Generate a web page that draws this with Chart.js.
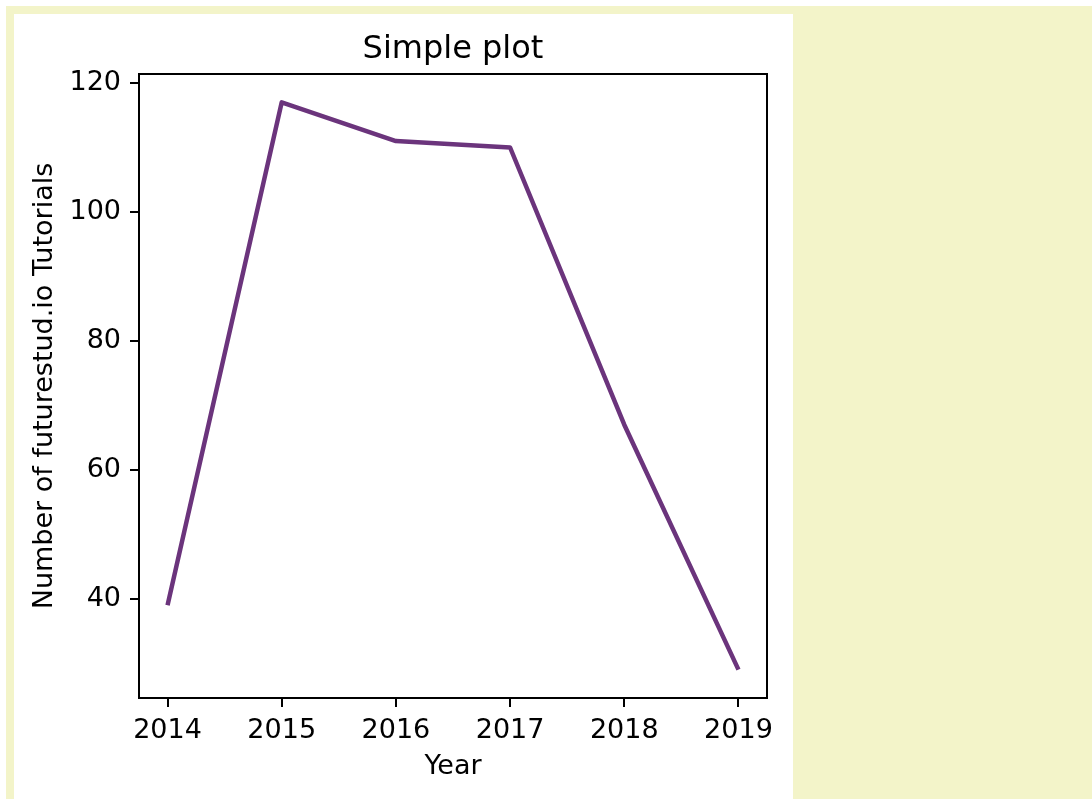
<!DOCTYPE html>
<html>
<head>
<meta charset="utf-8">
<title>Simple plot</title>
<script src="https://cdn.jsdelivr.net/npm/chart.js@4.4.1/dist/chart.umd.min.js"></script>
<style>
    html, body { margin: 0; padding: 0; background: #ffffff; overflow: hidden; }
    #frame { position: absolute; left: 6px; top: 6px; right: 0; bottom: 0; background: #f3f4c9; }
    #plot { position: absolute; left: 8px; top: 8px; width: 779px; height: 785px; background: #ffffff; }
</style>
</head>
<body>
<div id="frame">
    <div id="plot"><canvas id="chart" width="779" height="785"></canvas></div>
</div>
<script>
const years = [2014, 2015, 2016, 2017, 2018, 2019];
const tutorials = [39, 117, 111, 110, 67, 29];
const yTickValues = [40, 60, 80, 100, 120];

document.addEventListener("DOMContentLoaded", function () {

    const fontFamily = "'DejaVu Sans', sans-serif";

    // matplotlib style 5% margins round the data
    const xPad = (Math.max(...years) - Math.min(...years)) * 0.05;
    const yPad = (Math.max(...tutorials) - Math.min(...tutorials)) * 0.05;

    // draws all four spines on top of the line
    const framePlugin = {
        id: 'frame',
        afterDraw(chart) {
            const { ctx, chartArea } = chart;
            ctx.save();
            ctx.strokeStyle = '#000000';
            ctx.lineWidth = 2;
            ctx.strokeRect(chartArea.left, chartArea.top,
                chartArea.right - chartArea.left, chartArea.bottom - chartArea.top);
            ctx.restore();
        }
    };

    const ctx = document.getElementById('chart').getContext('2d');

    window.tutorialChart = new Chart(ctx, {
        type: 'line',
        data: {
            datasets: [{
                label: 'Tutorials',
                data: years.map((y, i) => ({ x: y, y: tutorials[i] })),
                borderColor: '#6b347c',
                borderWidth: 4.5,
                borderJoinStyle: 'round',
                pointRadius: 0,
                tension: 0,
                fill: false
            }]
        },
        plugins: [framePlugin],
        options: {
            responsive: false,
            animation: false,
            layout: { padding: { left: 0, right: 26, top: 0, bottom: 0 } },
            plugins: {
                legend: { display: false },
                tooltip: { enabled: false },
                title: {
                    display: true,
                    fullSize: false,   // centre over the plot area, not the canvas
                    text: 'Simple plot',
                    color: '#000000',
                    font: { family: fontFamily, size: 32, weight: 'normal' },
                    padding: { top: 16, bottom: 5.6 }
                }
            },
            scales: {
                x: {
                    type: 'linear',
                    min: Math.min(...years) - xPad,
                    max: Math.max(...years) + xPad,
                    afterBuildTicks: (scale) => { scale.ticks = years.map(v => ({ value: v })); },
                    afterFit: (scale) => { scale.height = 101; },
                    grid: { drawOnChartArea: false, drawTicks: true, tickLength: 9, color: '#000000', lineWidth: 2 },
                    border: { display: false },
                    ticks: {
                        color: '#000000',
                        padding: 8,
                        maxRotation: 0,
                        font: { family: fontFamily, size: 27 },
                        callback: (v) => String(v)
                    },
                    title: {
                        display: true,
                        text: 'Year',
                        color: '#000000',
                        font: { family: fontFamily, size: 27 },
                        padding: { top: 0, bottom: 16 }
                    }
                },
                y: {
                    type: 'linear',
                    min: Math.min(...tutorials) - yPad,
                    max: Math.max(...tutorials) + yPad,
                    afterBuildTicks: (scale) => { scale.ticks = yTickValues.map(v => ({ value: v })); },
                    afterFit: (scale) => { scale.width = 125; },
                    grid: { drawOnChartArea: false, drawTicks: true, tickLength: 9, color: '#000000', lineWidth: 2 },
                    border: { display: false },
                    ticks: {
                        color: '#000000',
                        padding: 9,
                        font: { family: fontFamily, size: 27 },
                        callback: (v) => String(v)
                    },
                    title: {
                        display: true,
                        text: 'Number of futurestud.io Tutorials',
                        color: '#000000',
                        font: { family: fontFamily, size: 27 },
                        padding: { top: 15, bottom: 0 }
                    }
                }
            }
        }
    });
});
</script>
</body>
</html>
